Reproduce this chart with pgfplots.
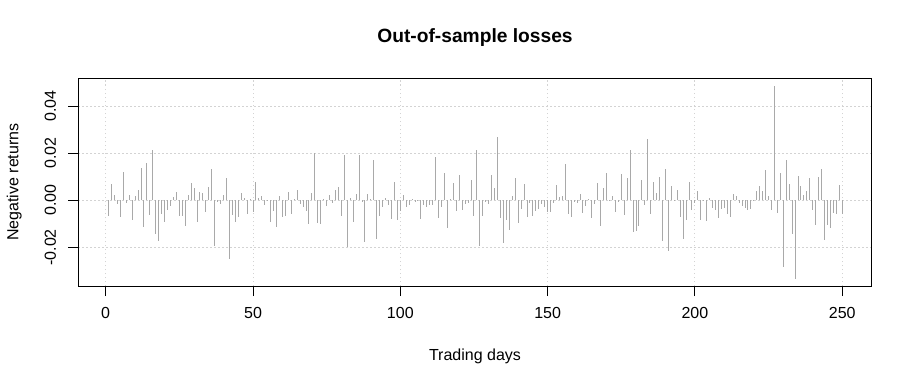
\documentclass[border=0pt]{standalone}
\usepackage{pgfplots}
\pgfplotsset{compat=1.18}
\usepackage{fontspec}
\setmainfont{Liberation Sans}
\definecolor{bargray}{RGB}{169,169,169}
\definecolor{gridgray}{RGB}{211,211,211}
\begin{document}
\fontsize{16bp}{19bp}\selectfont
\begin{tikzpicture}
\path[use as bounding box] (-78.3bp,-98bp) rectangle (833.7bp,286bp);
\begin{axis}[
  at={(0,0)}, anchor=south west,
  scale only axis, width=793.4bp, height=207.7bp,
  xmin=-9.3, xmax=260, ymin=-0.0364, ymax=0.0518,
  axis line style={black, line width=1bp},
  xtick={0,50,100,150,200,250}, xticklabels={0,50,100,150,200,250},
  ytick={-0.02,0,0.02,0.04}, yticklabels={-0.02,0.00,0.02,0.04},
  scaled y ticks=false, scaled x ticks=false,
  tick pos=left,
  tick align=outside, major tick length=10bp,
  tick style={black, line width=1bp},
  grid=major, major grid style={gridgray, line width=1bp, dash pattern=on 1.5bp off 2.5bp},
  xticklabel style={anchor=base, inner sep=0pt},
  xticklabel shift=22.7bp,
  yticklabel style={rotate=90, anchor=base, inner sep=0pt},
  yticklabel shift=12.5bp,
  title={Out-of-sample losses},
  title style={at={(axis description cs:0.5,1.1435)}, anchor=base, yshift=0pt, inner sep=0pt,
    font=\fontsize{19.2bp}{23bp}\selectfont\bfseries},
  xlabel={Trading days},
  xlabel style={at={(axis description cs:0.5,-0.3587)}, anchor=base, inner sep=0pt},
  ylabel={Negative returns},
  ylabel style={at={(axis description cs:-0.0754,0.5)}, anchor=base, rotate=0, inner sep=0pt},
]
\addplot[ycomb, draw=bargray, line width=1bp, mark=none] coordinates {
(1,-0.0065)(2,0.0071)(3,0.0023)(4,-0.0014)(5,-0.0070)(6,0.0118)(7,-0.0010)(8,0.0023)(9,-0.0082)(10,0.0018)
(11,0.0044)(12,0.0138)(13,-0.0112)(14,0.0160)(15,-0.0061)(16,0.0214)(17,-0.0142)(18,-0.0172)(19,-0.0057)(20,-0.0091)
(21,-0.0040)(22,-0.0026)(23,0.0013)(24,0.0035)(25,-0.0065)(26,-0.0065)(27,-0.0108)(28,0.0023)(29,0.0074)(30,0.0052)
(31,-0.0091)(32,0.0035)(33,0.0031)(34,-0.0048)(35,0.0057)(36,0.0133)(37,-0.0193)(38,-0.0006)(39,-0.0014)(40,0.0023)
(41,0.0095)(42,-0.0251)(43,-0.0061)(44,-0.0091)(45,-0.0070)(46,0.0031)(47,0.0010)(48,-0.0057)(49,0.0006)(50,-0.0048)
(51,0.0078)(52,0.0010)(53,0.0018)(54,-0.0018)(55,0.0002)(56,-0.0091)(57,-0.0044)(58,-0.0112)(59,0.0018)(60,-0.0070)
(61,-0.0065)(62,0.0035)(63,-0.0057)(64,0.0004)(65,0.0044)(66,-0.0014)(67,-0.0027)(68,-0.0044)(69,-0.0099)(70,0.0031)
(71,0.0200)(72,-0.0095)(73,-0.0099)(74,0.0006)(75,-0.0023)(76,0.0023)(77,-0.0010)(78,0.0044)(79,0.0057)(80,-0.0065)
(81,0.0193)(82,-0.0200)(83,0.0010)(84,-0.0091)(85,0.0027)(86,0.0193)(87,-0.0006)(88,-0.0176)(89,0.0026)(90,0.0006)
(91,0.0172)(92,-0.0163)(93,-0.0065)(94,-0.0027)(95,0.0009)(96,-0.0021)(97,-0.0078)(98,0.0078)(99,-0.0082)(100,-0.0044)
(101,0.0021)(102,-0.0027)(103,-0.0021)(104,0.0006)(105,-0.0006)(106,0.0003)(107,-0.0078)(108,-0.0018)(109,-0.0027)(110,-0.0021)
(111,-0.0018)(112,0.0184)(113,-0.0074)(114,-0.0027)(115,0.0116)(116,-0.0116)(117,0.0006)(118,0.0074)(119,-0.0044)(120,0.0108)
(121,-0.0040)(122,-0.0014)(123,-0.0010)(124,0.0087)(125,-0.0065)(126,0.0214)(127,-0.0193)(128,-0.0065)(129,-0.0006)(130,-0.0014)
(131,0.0108)(132,0.0052)(133,0.0270)(134,-0.0074)(135,-0.0180)(136,-0.0082)(137,-0.0125)(138,0.0018)(139,0.0095)(140,-0.0095)
(141,-0.0035)(142,0.0070)(143,-0.0070)(144,-0.0010)(145,-0.0065)(146,-0.0044)(147,-0.0035)(148,-0.0014)(149,-0.0027)(150,-0.0048)
(151,-0.0048)(152,-0.0010)(153,0.0065)(154,0.0014)(155,0.0018)(156,0.0155)(157,-0.0057)(158,-0.0070)(159,-0.0006)(160,-0.0010)
(161,0.0027)(162,-0.0052)(163,-0.0023)(164,0.0006)(165,-0.0074)(166,-0.0014)(167,0.0074)(168,-0.0108)(169,0.0052)(170,0.0116)
(171,0.0001)(172,0.0018)(173,-0.0048)(174,-0.0006)(175,0.0112)(176,-0.0061)(177,0.0095)(178,0.0214)(179,-0.0133)(180,-0.0129)
(181,-0.0108)(182,0.0087)(183,-0.0018)(184,0.0261)(185,-0.0057)(186,0.0078)(187,0.0031)(188,0.0099)(189,-0.0172)(190,0.0133)
(191,-0.0214)(192,0.0061)(193,0.0001)(194,0.0044)(195,-0.0070)(196,-0.0163)(197,-0.0082)(198,0.0078)(199,-0.0040)(200,-0.0010)
(201,0.0040)(202,-0.0082)(203,0.0001)(204,-0.0087)(205,0.0010)(206,-0.0031)(207,-0.0040)(208,-0.0074)(209,-0.0038)(210,-0.0032)
(211,-0.0058)(212,-0.0071)(213,0.0026)(214,0.0017)(215,-0.0011)(216,-0.0024)(217,-0.0033)(218,-0.0041)(219,-0.0037)(220,0.0001)
(221,0.0038)(222,0.0060)(223,0.0038)(224,0.0128)(225,0.0017)(226,-0.0041)(227,0.0485)(228,-0.0054)(229,0.0115)(230,-0.0284)
(231,0.0170)(232,0.0068)(233,-0.0143)(234,-0.0335)(235,0.0102)(236,0.0060)(237,0.0021)(238,0.0038)(239,0.0094)(240,-0.0041)
(241,-0.0105)(242,0.0098)(243,0.0132)(244,-0.0169)(245,-0.0105)(246,-0.0118)(247,-0.0054)(248,-0.0058)(249,0.0064)(250,-0.0058)
};
\end{axis}
\end{tikzpicture}
\end{document}
